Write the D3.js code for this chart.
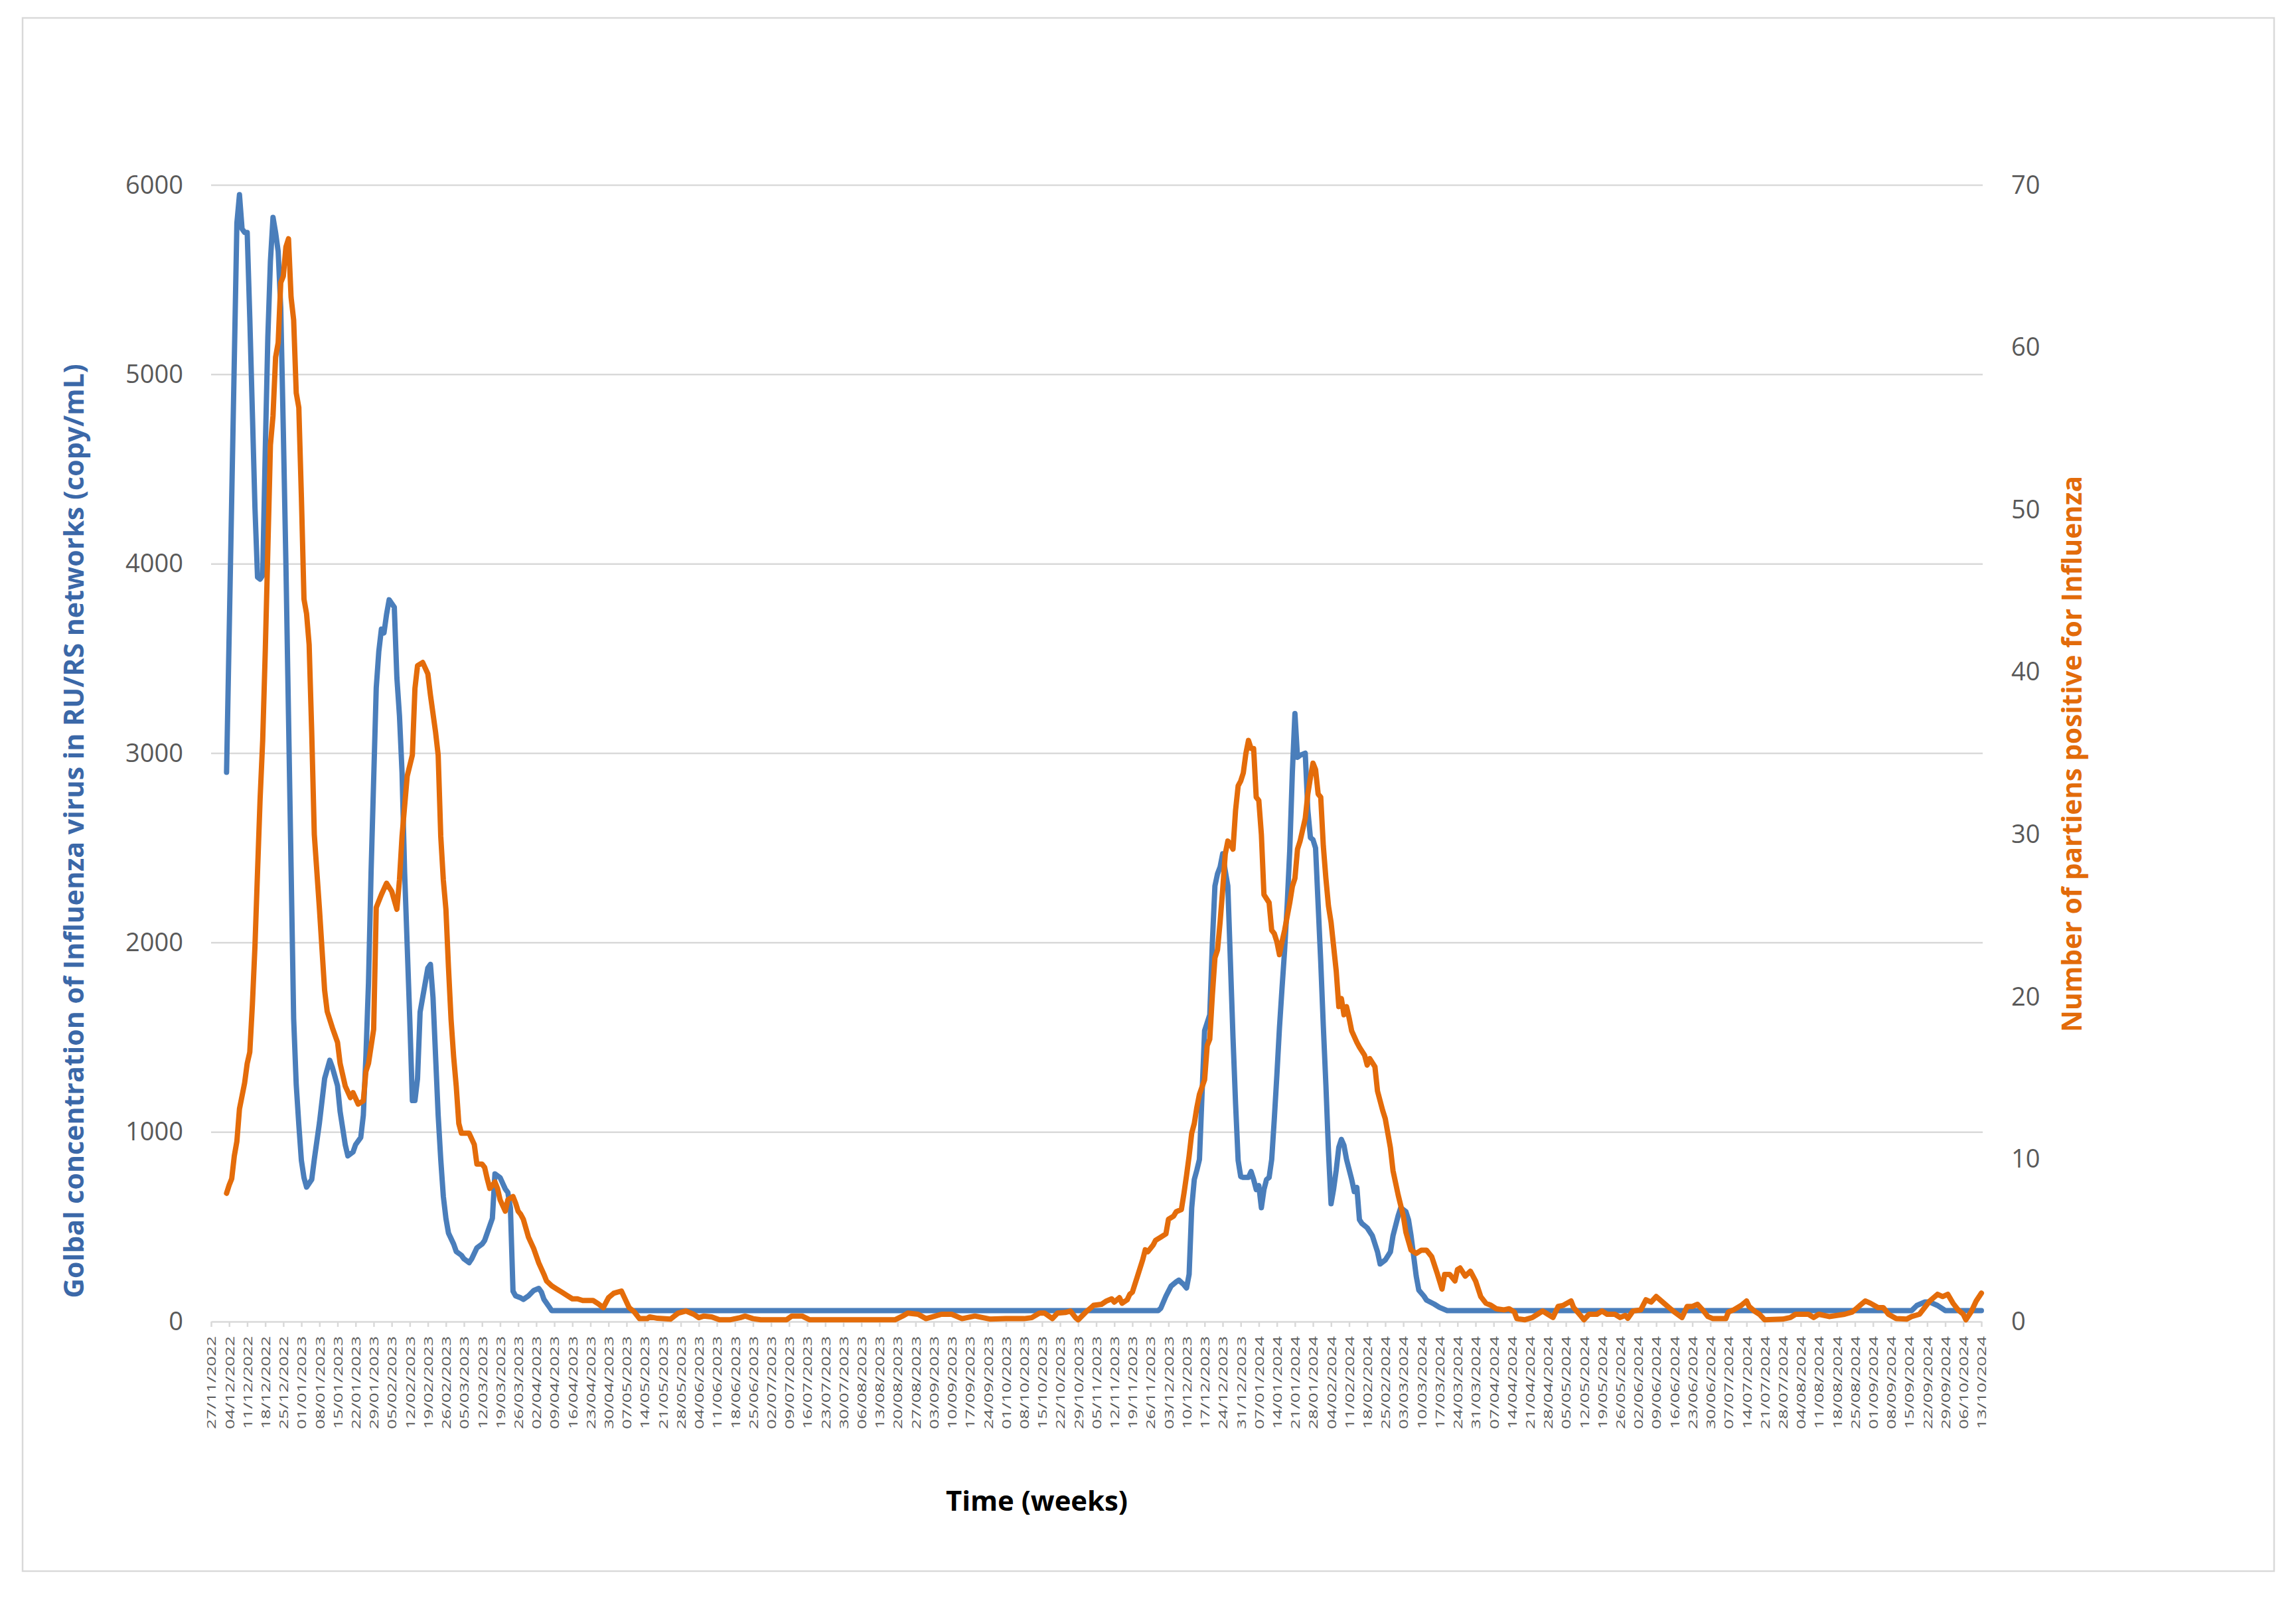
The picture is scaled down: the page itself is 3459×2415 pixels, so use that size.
<!DOCTYPE html>
<html><head><meta charset="utf-8">
<script src="https://cdn.jsdelivr.net/npm/d3@7"></script>
<style>body{margin:0;background:#fff}</style>
</head><body>
<svg id="c" width="3459" height="2415"></svg>
<script>
// ---------- data ----------
const startDate = Date.UTC(2022, 10, 27);   // 27/11/2022
const endDate   = Date.UTC(2024, 9, 13);    // 13/10/2024
const leftTicks  = [0, 1000, 2000, 3000, 4000, 5000, 6000];
const rightTicks = [0, 10, 20, 30, 40, 50, 60, 70];
const leftTitle  = "Golbal concentration of Influenza virus in RU/RS networks (copy/mL)";
const rightTitle = "Number of partiens positive for Influenza";
const xTitle     = "Time (weeks)";

// days since 27/11/2022 and concentration (copy/mL)
const concDay = [6,10,11,12,13,14,15,16,17,18,19,20,21,22,23,24,25,26,27,28,29,30,31,32,33,34,35,36,37,39,40,42,44,46,47,49,50,52,53,55,56,58,59,60,61,62,64,65,66,67,68,69,71,72,73,74,75,76,77,78,79,80,81,83,84,85,86,87,88,89,90,91,92,94,95,97,98,100,101,103,105,106,108,109,110,112,114,115,116,117,118,120,121,123,125,127,128,129,131,132,
 367,368,370,372,374,375,377,378,379,380,381,382,383,384,385,386,387,388,389,390,391,392,393,394,395,396,397,398,399,400,402,403,404,405,406,407,408,409,410,411,412,413,414,415,416,417,418,419,420,421,422,424,425,426,427,428,429,430,431,432,433,434,435,436,437,438,439,440,442,443,444,445,446,448,450,452,453,455,457,458,460,461,463,464,465,466,467,468,470,471,474,476,479,
 659,661,664,666,669,672,686];
const concValue = [2900,5800,5950,5770,5750,5750,5300,4800,4300,3930,3920,3940,4600,5200,5600,5830,5750,5650,5350,4700,4000,3200,2400,1600,1250,1040,850,760,710,750,856,1050,1283,1380,1342,1245,1109,933,875,895,934,972,1089,1400,1789,2373,3345,3539,3656,3636,3734,3811,3772,3400,3200,2900,2373,1984,1595,1167,1167,1283,1634,1789,1867,1886,1711,1400,1089,856,661,545,467,409,370,350,331,311,331,389,409,428,506,545,780,760,700,681,600,160,136,125,117,136,164,175,156,117,78,58,
 58,70,134,187,210,219,194,177,250,600,750,800,856,1200,1536,1578,1620,2000,2300,2364,2400,2470,2380,2300,1900,1500,1150,850,765,761,761,792,750,697,718,601,697,750,761,856,1068,1300,1550,1760,1960,2200,2491,2900,3210,2979,2990,3001,2700,2555,2544,2500,2200,1900,1560,1250,900,622,700,800,920,962,930,856,750,686,708,538,517,495,453,368,304,325,368,453,559,601,580,538,453,347,240,166,134,113,92,75,58,
 58,85,103,103,85,58,58];

// days since 27/11/2022 and number of patients positive
const posDay = [6,7,8,9,10,11,13,14,15,16,17,18,19,20,21,22,23,24,25,26,27,28,29,30,31,32,33,34,35,36,37,38,39,40,42,44,45,47,49,50,52,54,55,57,59,60,61,63,64,66,68,70,72,73,74,76,78,79,80,82,84,85,87,88,89,90,91,92,93,94,95,96,97,99,100,102,103,105,106,107,108,110,111,112,114,115,117,118,119,120,121,123,125,127,129,130,132,134,136,138,140,142,144,146,148,150,152,154,156,159,160,162,164,166,169,170,173,178,181,184,187,189,191,194,197,201,205,207,210,213,223,225,229,232,265,268,270,274,277,280,283,287,291,296,302,308,315,318,321,323,326,328,331,333,335,336,339,341,342,345,347,349,350,352,353,355,356,357,359,361,362,363,365,366,368,370,371,373,374,376,377,378,379,380,381,382,383,385,386,387,388,389,390,391,392,393,394,395,396,397,398,399,400,401,402,403,404,405,406,407,408,410,411,412,413,414,415,416,418,419,420,421,422,424,425,426,427,428,429,430,431,432,433,434,436,437,438,439,440,441,442,444,445,447,448,449,451,452,454,455,457,458,460,462,463,465,467,469,471,473,475,477,478,480,482,483,484,486,488,490,492,494,496,498,501,503,505,506,509,512,514,516,518,520,522,524,527,528,531,532,534,537,539,541,544,546,548,549,551,554,556,558,560,563,565,567,570,572,574,576,578,580,582,587,588,590,593,595,596,598,600,602,609,612,614,619,621,623,627,630,633,636,639,641,643,646,648,650,653,657,659,662,664,666,669,671,673,675,677,679,680,682,684,686];
const posValue = [7.9,8.4,8.8,10.2,11.1,13.1,14.7,15.9,16.6,19.5,23.1,27.7,32.2,35.8,41.3,47.6,54.0,55.8,59.4,60.3,64.0,64.4,66.2,66.7,63.1,61.7,57.2,56.3,50.8,44.5,43.6,41.7,36.3,30.0,25.4,20.4,19.1,18.1,17.2,15.9,14.5,13.8,14.1,13.4,13.6,15.4,15.9,18.0,25.5,26.3,27.0,26.5,25.4,27.2,29.9,33.6,34.9,39.0,40.4,40.6,39.9,38.6,36.3,34.9,29.9,27.2,25.4,21.8,18.6,16.3,14.5,12.2,11.6,11.6,11.6,10.9,9.7,9.7,9.5,8.8,8.2,8.6,8.2,7.5,6.8,7.5,7.7,7.3,6.8,6.6,6.3,5.2,4.5,3.6,2.9,2.5,2.2,2.0,1.8,1.6,1.4,1.4,1.3,1.3,1.3,1.1,0.86,1.47,1.74,1.88,1.54,0.86,0.59,0.18,0.18,0.29,0.2,0.15,0.52,0.65,0.45,0.24,0.34,0.29,0.11,0.11,0.24,0.34,0.18,0.11,0.11,0.34,0.34,0.11,0.11,0.34,0.52,0.45,0.18,0.31,0.45,0.45,0.18,0.34,0.15,0.18,0.18,0.24,0.52,0.52,0.18,0.52,0.56,0.65,0.24,0.11,0.59,0.86,1.0,1.06,1.27,1.4,1.2,1.47,1.13,1.34,1.68,1.81,2.8,3.8,4.42,4.3,4.7,5.0,5.2,5.4,6.3,6.5,6.77,6.9,7.9,9.0,10.2,11.6,12.2,13.2,14.0,14.9,17.0,17.4,20.1,22.4,22.9,24.6,26.6,28.8,29.6,29.4,29.1,31.5,33.0,33.3,33.8,35.0,35.8,35.3,35.3,32.3,32.1,30.0,26.3,25.8,24.1,23.9,23.4,22.6,23.4,24.1,25.8,26.8,27.3,29.1,29.6,31.0,32.5,33.5,34.4,34.0,32.5,32.3,29.3,27.3,25.6,24.6,21.6,19.4,19.9,18.9,19.4,18.7,17.9,17.2,16.9,16.4,15.8,16.2,15.7,14.2,13.0,12.5,10.7,9.3,7.8,6.5,5.5,4.4,4.2,4.4,4.4,4.0,3.04,2.0,2.9,2.9,2.5,3.2,3.3,2.8,3.1,2.5,1.54,1.13,1.0,0.79,0.72,0.79,0.59,0.18,0.11,0.25,0.45,0.65,0.45,0.25,0.93,1.0,1.27,0.86,0.31,0.11,0.45,0.45,0.65,0.45,0.45,0.25,0.38,0.2,0.65,0.72,1.34,1.2,1.54,1.13,0.86,0.59,0.25,0.93,0.93,1.06,0.72,0.31,0.18,0.18,0.59,0.72,1.0,1.27,0.93,0.65,0.45,0.11,0.15,0.25,0.45,0.45,0.25,0.45,0.31,0.38,0.45,0.59,1.0,1.27,1.13,0.86,0.86,0.45,0.18,0.15,0.31,0.45,0.86,1.27,1.68,1.54,1.68,1.13,0.72,0.45,0.11,0.59,1.27,1.75];

// ---------- drawing ----------
const W = 3459, H = 2415;
const svg = d3.select("#c");
svg.append("rect").attr("width", W).attr("height", H).attr("fill", "#fff");
svg.append("rect").attr("x", 34).attr("y", 27).attr("width", 3392).attr("height", 2340)
  .attr("fill", "none").attr("stroke", "#d9d9d9").attr("stroke-width", 2.5);

const plotL = 318, plotR = 2985, plotT = 279, plotB = 1991;
const x  = d3.scaleUtc().domain([startDate, endDate]).range([plotL, plotR]);
const yL = d3.scaleLinear().domain([0, 6000]).range([plotB, plotT]);
const yR = d3.scaleLinear().domain([0, 70]).range([plotB, plotT]);
const dayToDate = d => d3.utcDay.offset(new Date(startDate), d);

// gridlines
svg.append("g").selectAll("line").data(leftTicks.filter(d => d > 0)).join("line")
  .attr("x1", plotL).attr("x2", plotR + 2)
  .attr("y1", d => yL(d)).attr("y2", d => yL(d))
  .attr("stroke", "#d9d9d9").attr("stroke-width", 2.5);

// left axis
const gL = svg.append("g").attr("transform", `translate(${plotL},0)`)
  .call(d3.axisLeft(yL).tickValues(leftTicks).tickSize(0).tickPadding(42).tickFormat(d3.format("d")));
gL.select(".domain").remove();
gL.selectAll("text").attr("font-family", "'Open Sans', sans-serif").attr("font-size", 38).attr("fill", "#595959");

// right axis
const gR = svg.append("g").attr("transform", `translate(${plotR + 2},0)`)
  .call(d3.axisRight(yR).tickValues(rightTicks).tickSize(0).tickPadding(43).tickFormat(d3.format("d")));
gR.select(".domain").remove();
gR.selectAll("text").attr("font-family", "'Open Sans', sans-serif").attr("font-size", 38).attr("fill", "#595959");

// bottom axis
const weekDates = d3.utcDay.range(new Date(startDate), d3.utcDay.offset(new Date(endDate), 1), 7);
const gB = svg.append("g").attr("transform", `translate(0,${plotB})`)
  .call(d3.axisBottom(x).tickValues(weekDates).tickSize(8).tickSizeOuter(0).tickFormat(d3.utcFormat("%d/%m/%Y")));
gB.select(".domain").attr("stroke", "#d9d9d9").attr("stroke-width", 2.5);
gB.selectAll(".tick line").attr("stroke", "#d9d9d9").attr("stroke-width", 2.5);
gB.selectAll(".tick text")
  .attr("transform", "rotate(-90)")
  .attr("x", -22).attr("y", 0).attr("dy", "0.36em")
  .attr("text-anchor", "end")
  .attr("font-family", "'Open Sans', sans-serif").attr("font-size", 19)
  .attr("fill", "#595959")
  .attr("textLength", 140).attr("lengthAdjust", "spacingAndGlyphs");

// lines
const lineL = d3.line().x(d => x(dayToDate(d[0]))).y(d => yL(d[1]));
const lineR = d3.line().x(d => x(dayToDate(d[0]))).y(d => yR(d[1]));
svg.append("path").datum(d3.zip(concDay, concValue)).attr("d", lineL)
  .attr("fill", "none").attr("stroke", "#4a7ebb").attr("stroke-width", 8)
  .attr("stroke-linejoin", "round").attr("stroke-linecap", "round");
svg.append("path").datum(d3.zip(posDay, posValue)).attr("d", lineR)
  .attr("fill", "none").attr("stroke", "#e46c0a").attr("stroke-width", 8)
  .attr("stroke-linejoin", "round").attr("stroke-linecap", "round");

// titles
function fit(sel, target) {
  const len = sel.node().getComputedTextLength();
  const fs = parseFloat(sel.attr("font-size"));
  sel.attr("font-size", (fs * target / len).toFixed(2));
}
const tL = svg.append("text").text(leftTitle)
  .attr("transform", "translate(110,1252) rotate(-90)")
  .attr("text-anchor", "middle").attr("dominant-baseline", "central")
  .attr("font-family", "'Open Sans', sans-serif").attr("font-weight", "bold")
  .attr("font-size", 36).attr("fill", "#3b68a8");
fit(tL, 1408);
const tR = svg.append("text").text(rightTitle)
  .attr("transform", "translate(3120,1136) rotate(-90)")
  .attr("text-anchor", "middle").attr("dominant-baseline", "central")
  .attr("font-family", "'Open Sans', sans-serif").attr("font-weight", "bold")
  .attr("font-size", 36).attr("fill", "#e26b0a");
fit(tR, 838);
const tX = svg.append("text").text(xTitle)
  .attr("x", 1562).attr("y", 2259)
  .attr("text-anchor", "middle").attr("dominant-baseline", "central")
  .attr("font-family", "'Open Sans', sans-serif").attr("font-weight", "bold")
  .attr("font-size", 38).attr("fill", "#000");
fit(tX, 274);
</script>
</body></html>
